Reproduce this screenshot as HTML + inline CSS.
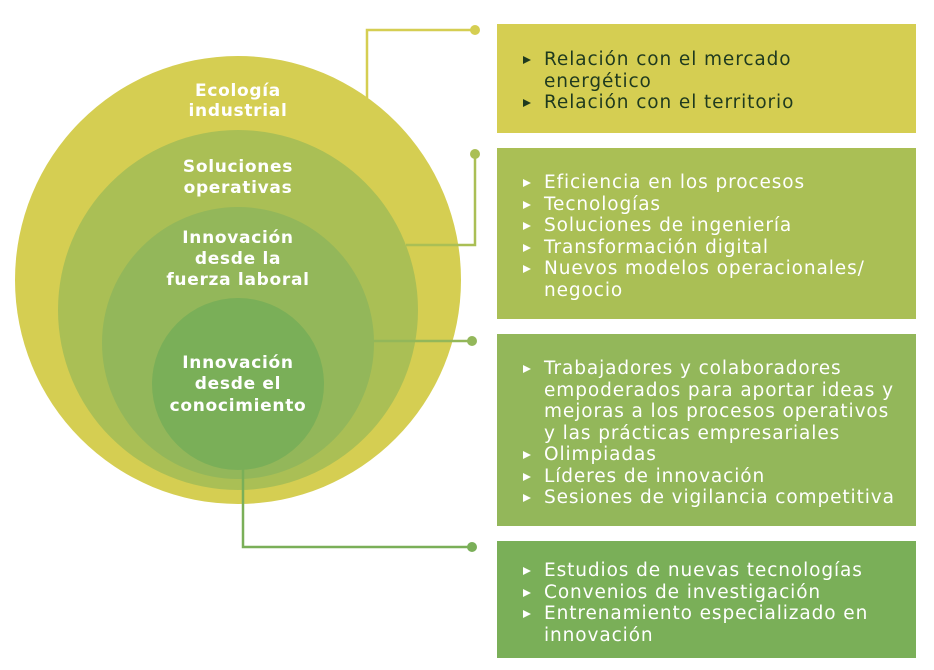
<!DOCTYPE html>
<html><head><meta charset="utf-8"><style>
body{margin:0;width:934px;height:670px;background:#fff;position:relative;overflow:hidden;font-family:"DejaVu Sans",sans-serif}
.box{position:absolute;left:497px;width:419px}
.box ul{list-style:none;margin:0;padding:0;position:absolute;left:26px;font-size:18.5px;letter-spacing:0.9px;line-height:21.5px;color:#fff;white-space:nowrap}
.box li{padding-left:21px;position:relative}
.box li:before{content:"";position:absolute;left:0;top:7px;border-left:8px solid currentColor;border-top:4px solid transparent;border-bottom:4px solid transparent}
svg{position:absolute;left:0;top:0}
</style></head><body>
<svg width="934" height="670">
<ellipse cx="238" cy="280" rx="223" ry="224" fill="#d5ce52"/>
<circle cx="238" cy="310" r="180" fill="#aabf55"/>
<circle cx="238" cy="343" r="136" fill="#93b75a"/>
<circle cx="238" cy="384" r="86" fill="#7aaf58"/>
<g fill="none" stroke-width="2.5">
<polyline points="367,98 367,30 475,30" stroke="#d5ce52"/>
<polyline points="406,245 475,245 475,154" stroke="#aabf55"/>
<polyline points="373,341 472,341" stroke="#93b75a"/>
<polyline points="243,469 243,547 472,547" stroke="#7aaf58"/>
</g>
<circle cx="475" cy="30" r="5" fill="#d5ce52"/>
<circle cx="475" cy="154" r="5" fill="#aabf55"/>
<circle cx="472" cy="341" r="5" fill="#93b75a"/>
<circle cx="472" cy="547" r="5" fill="#7aaf58"/>
<g fill="#fff" font-family="DejaVu Sans, sans-serif" font-weight="bold" font-size="17" letter-spacing="0.7" text-anchor="middle">
<text x="238" y="96">Ecología</text><text x="238" y="116">industrial</text>
<text x="238" y="172">Soluciones</text><text x="238" y="193">operativas</text>
<text x="238" y="243">Innovación</text><text x="238" y="264">desde la</text><text x="238" y="285">fuerza laboral</text>
<text x="238" y="368">Innovación</text><text x="238" y="389">desde el</text><text x="238" y="411">conocimiento</text>
</g>
</svg>
<div class="box" style="top:24px;height:109px;background:#d5ce52"><ul style="top:25px;color:#1f3a1f"><li>Relación con el mercado<br>energético</li><li>Relación con el territorio</li></ul></div>
<div class="box" style="top:148px;height:171px;background:#aabf55"><ul style="top:24px"><li>Eficiencia en los procesos</li><li>Tecnologías</li><li>Soluciones de ingeniería</li><li>Transformación digital</li><li>Nuevos modelos operacionales/<br>negocio</li></ul></div>
<div class="box" style="top:334px;height:192px;background:#93b75a"><ul style="top:24px"><li>Trabajadores y colaboradores<br>empoderados para aportar ideas y<br>mejoras a los procesos operativos<br>y las prácticas empresariales</li><li>Olimpiadas</li><li>Líderes de innovación</li><li>Sesiones de vigilancia competitiva</li></ul></div>
<div class="box" style="top:541px;height:117px;background:#7aaf58"><ul style="top:19px"><li>Estudios de nuevas tecnologías</li><li>Convenios de investigación</li><li>Entrenamiento especializado en<br>innovación</li></ul></div>
</body></html>
